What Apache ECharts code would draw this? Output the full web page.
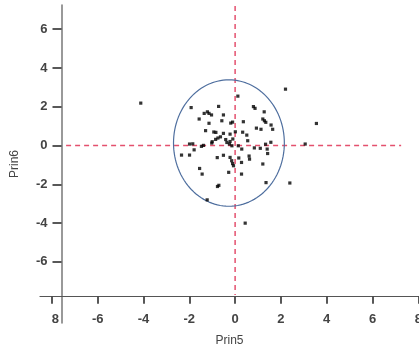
<!DOCTYPE html>
<html>
<head>
<meta charset="utf-8">
<script src="https://cdn.jsdelivr.net/npm/echarts@6/dist/echarts.min.js"></script>
<style>
html,body{margin:0;padding:0;background:#fff;}
#c{width:419px;height:355px;}
</style>
</head>
<body>
<div id="c"></div>
<script>
// Data (Prin5, Prin6)
const prin5 = [-4.12,2.20,0.12,-1.92,-0.72,0.80,0.87,1.27,-1.35,-1.21,-1.14,-1.03,-1.57,-0.51,1.21,1.28,1.34,-1.14,-0.58,-0.19,-0.11,0.36,1.57,0.93,1.13,1.64,-1.29,-0.93,-0.84,-0.51,-0.22,0.01,0.33,0.51,-0.64,-0.75,-0.85,-0.41,-0.22,-1.00,0.55,-0.10,-1.99,-1.38,-1.47,-1.79,-2.34,-1.99,0.84,1.10,1.33,1.56,1.40,1.42,0.29,0.61,0.63,-0.78,-0.51,-0.22,-0.15,-0.11,-0.07,0.16,0.28,1.21,-1.55,-1.44,0.28,-0.28,-0.77,-0.71,-1.22,1.35,2.39,0.44,3.55,3.06,-0.36,-0.25,-0.14,-1.02,0.14,-1.85];
const prin6 = [2.19,2.91,2.55,1.96,2.02,2.01,1.92,1.74,1.66,1.74,1.66,1.58,1.37,1.58,1.37,1.28,1.20,1.15,1.28,1.16,1.21,1.23,1.06,0.90,0.84,0.84,0.77,0.70,0.68,0.63,0.59,0.71,0.69,0.54,0.45,0.39,0.32,0.31,0.21,0.20,0.25,0.34,0.08,0.01,-0.04,-0.22,-0.49,-0.49,-0.12,-0.14,0.07,0.17,-0.18,-0.41,-0.18,-0.54,-0.70,-0.62,-0.50,-0.61,-0.78,-0.93,-1.04,-0.64,-0.87,-0.95,-1.18,-1.47,-1.47,-1.38,-2.11,-2.05,-2.80,-1.91,-1.93,-4.00,1.14,0.08,0.16,0.08,-0.01,0.13,-0.01,0.09];
const xTicks = [-8,-6,-4,-2,0,2,4,6,8];
const yTicks = [-6,-4,-2,0,2,4,6];
const ellipseCenter = [-0.27, 0.13];
const ellipseRadii = [2.42, 3.26];
const hRefLine = [[-7.38,0],[7.25,0]];
const vRefLine = [[0,7.2],[0,-7.7]];

const points = prin5.map((x,i)=>[x, prin6[i]]);
const ellipse = [];
for (let k=0;k<=120;k++){
  const t = k/120*2*Math.PI;
  ellipse.push([ellipseCenter[0]+ellipseRadii[0]*Math.cos(t), ellipseCenter[1]+ellipseRadii[1]*Math.sin(t)]);
}

const chart = echarts.init(document.getElementById('c'), null, {renderer:'canvas'});
const labelFont = {fontFamily:'Liberation Sans, Arial, sans-serif', fontSize:13, fontWeight:'bold', color:'#444'};
chart.setOption({
  animation:false,
  grid:{left:40, right:0, top:5, bottom:32, containLabel:false, outerBoundsMode:'none'},
  xAxis:{
    type:'value', min:-8.52, max:8.03, offset:-26.3,
    splitLine:{show:false},
    axisLine:{show:true, onZero:false, lineStyle:{color:'#555', width:1.2}},
    axisTick:{show:true, inside:false, length:7, customValues:xTicks, lineStyle:{color:'#222', width:1.5}},
    axisLabel:Object.assign({customValues:xTicks, margin:16,
      formatter:function(v){ return v===-8 ? '{s|8}' : String(v); },
      rich:{s:{fontFamily:'Liberation Sans, Arial, sans-serif', fontSize:13, fontWeight:'bold', color:'#444', padding:[0,0,0,7]}}
    }, labelFont),
    name:'Prin5', nameLocation:'middle', nameGap:38,
    nameTextStyle:{fontFamily:'Liberation Sans, Arial, sans-serif', fontSize:12, color:'#444'}
  },
  yAxis:{
    type:'value', min:-9.15, max:7.25, offset:-21.5,
    splitLine:{show:false},
    axisLine:{show:true, onZero:false, lineStyle:{color:'#777', width:1.5}},
    axisTick:{show:true, length:9, customValues:yTicks, lineStyle:{color:'#222', width:1.5}},
    axisLabel:Object.assign({customValues:yTicks, margin:14}, labelFont),
    name:'Prin6', nameLocation:'middle', nameGap:41, nameRotate:90,
    nameTextStyle:{fontFamily:'Liberation Sans, Arial, sans-serif', fontSize:12, color:'#444'}
  },
  series:[
    {type:'line', data:hRefLine, showSymbol:false, silent:true, z:1,
     lineStyle:{color:'#e4506e', width:1.5, type:[5,4]}},
    {type:'line', data:vRefLine, showSymbol:false, silent:true, z:1,
     lineStyle:{color:'#e4506e', width:1.5, type:[5,4]}},
    {type:'line', data:ellipse, showSymbol:false, silent:true, smooth:false, z:2,
     lineStyle:{color:'#4f6f9f', width:1.2}},
    {type:'scatter', data:points, symbol:'rect', symbolSize:3.2, z:3,
     itemStyle:{color:'#000'}}
  ]
});
</script>
</body>
</html>
